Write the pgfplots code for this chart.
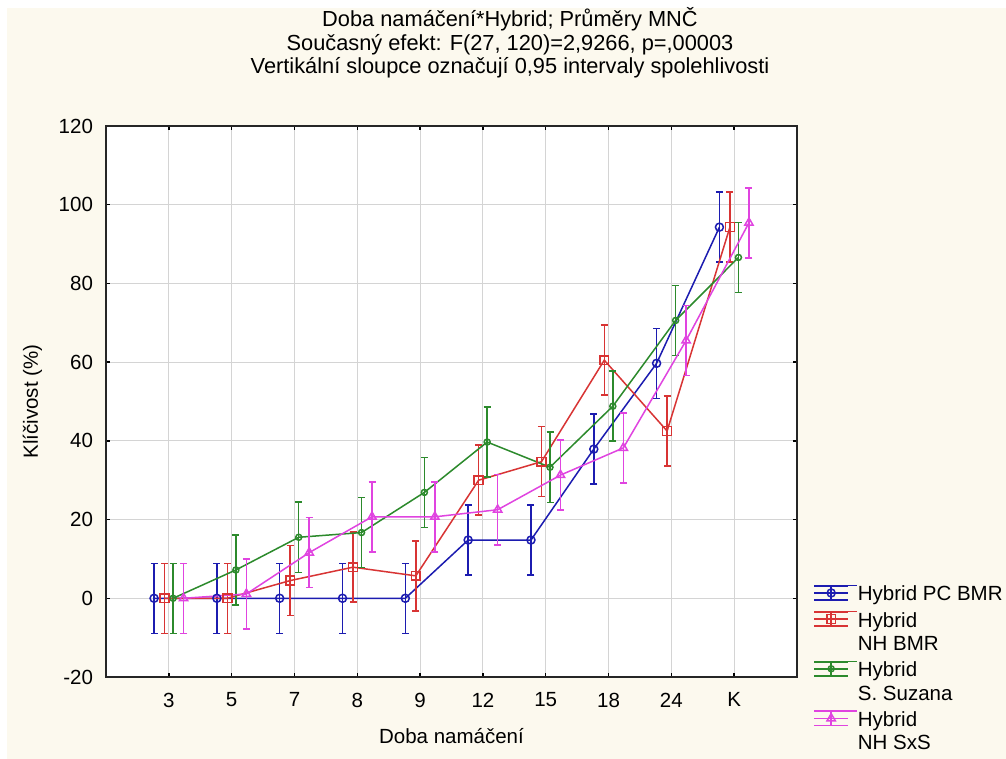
\documentclass[border=0pt]{standalone}
\usepackage{pgfplots}
\pgfplotsset{compat=1.18}
\usepackage{pgfplotstable}
\usepackage{fontspec}
\setmainfont{Liberation Sans}

\definecolor{paper}{HTML}{FCF9EE}
\definecolor{serA}{HTML}{1C1CB0}
\definecolor{serB}{HTML}{D83434}
\definecolor{serC}{HTML}{2C8A2C}
\definecolor{serD}{HTML}{E044E0}
\definecolor{gridgray}{HTML}{D4D4D4}

% i = soaking time (category index), m = LS mean, e = half-width of 0.95 CI
\pgfplotstableread{
i m e
1 0 8.9
2 0 8.9
3 0 8.9
4 0 8.9
5 0 8.9
6 14.8 8.9
7 14.8 8.9
8 37.9 8.9
9 59.7 8.9
10 94.3 8.9
}\pcbmr
\pgfplotstableread{
i m e
1 0 8.9
2 0 8.9
3 4.5 8.9
4 7.9 8.9
5 5.7 8.9
6 30.0 8.9
7 34.7 8.9
8 60.5 8.9
9 42.5 8.9
10 94.3 8.9
}\nhbmr
\pgfplotstableread{
i m e
1 0 8.9
2 7.2 8.9
3 15.5 8.9
4 16.7 8.9
5 26.9 8.9
6 39.7 8.9
7 33.3 8.9
8 48.8 8.9
9 70.6 8.9
10 86.6 8.9
}\suzana
\pgfplotstableread{
i m e
1 0 8.9
2 1.1 8.9
3 11.6 8.9
4 20.7 8.9
5 20.7 8.9
6 22.5 8.9
7 31.3 8.9
8 38.2 8.9
9 65.5 8.9
10 95.4 8.9
}\nhsxs

\newcommand\chartfont{\fontsize{10.25}{11.75}\selectfont}
\newcommand\titlefont{\fontsize{10.9}{12}\selectfont}
% fixed line box for legend text
\newcommand\ls{\rule[-2pt]{0pt}{9.5pt}}

\pgfplotsset{
  series/.style={
    color=#1, line width=0.75pt,
    mark options={solid, line width=0.75pt},
    error bars/y dir=both, error bars/y explicit,
    error bars/error bar style={line width=0.75pt},
    error bars/error mark options={line width=0.75pt, mark size=1.75pt, rotate=90},
  },
}

\begin{document}
\begin{tikzpicture}
\useasboundingbox (-53pt,-41pt) rectangle (450pt,338.5pt);
\fill[white] (-53pt,-41pt) rectangle (450pt,338.5pt);
\fill[paper] (-49.5pt,-41pt) rectangle (450pt,334.5pt);

\node[font=\titlefont, anchor=base] at (202pt,325.2pt) {Doba namáčení*Hybrid; Průměry MNČ};
\node[font=\titlefont, anchor=base] at (202pt,313.2pt) {Současný efekt: F(27, 120)=2,9266, p=,00003};
\node[font=\titlefont, anchor=base] at (202pt,301.5pt) {Vertikální sloupce označují 0,95 intervaly spolehlivosti};

\begin{axis}[
  at={(0pt,0pt)}, anchor=south west,
  scale only axis, width=345.5pt, height=275.5pt,
  xmin=0, xmax=11, ymin=-20, ymax=120,
  xtick={1,...,10}, xticklabels={3,5,7,8,9,12,15,18,24,K},
  ytick={-20,0,20,40,60,80,100,120},
  yticklabels={-20,0,20,40,60,80,100,120},
  tick align=inside, major tick length=2pt,
  tick style={black, line width=0.75pt},
  axis line style={line width=1pt, black!85},
  axis background/.style={fill=white},
  grid=major, major grid style={gridgray, line width=0.5pt},
  ticklabel style={font=\chartfont},
  xticklabel style={yshift=-4.4pt},
  yticklabel style={xshift=-3pt},
  xlabel={Doba namáčení}, ylabel={Klíčivost (\%)},
  label style={font=\chartfont},
  xlabel style={at={(axis description cs:0.5,-0.108)}, anchor=center},
  ylabel style={at={(axis description cs:-0.1064,0.5)}, anchor=center},
  legend style={at={(axis description cs:1.0232,0.1682)}, anchor=north west,
    draw=none, fill=none, font=\chartfont, inner sep=0pt,
    row sep=3.5pt, column sep=0pt,
    nodes={inner sep=0pt}, cells={anchor=north west, align=left}},
  legend image code/.code={%
    \path (0pt,0pt) -- (21.5pt,0pt);
    \draw[mark=none,#1] (0pt,-3.75pt) -- (17pt,-3.75pt);
    \draw[mark=none,#1] (0pt,-0.25pt) -- (17pt,-0.25pt);
    \draw[mark=none,#1] (0pt,-7.25pt) -- (17pt,-7.25pt);
    \draw[mark=none,#1] (8.5pt,-7.25pt) -- (8.5pt,-0.25pt);
    \draw[#1] plot coordinates {(8.5pt,-3.75pt)};
  },
]
\addplot[series=serA, mark=o, mark size=2pt]
  table[x expr=\thisrow{i}-0.235, y=m, y error=e] {\pcbmr};
\addlegendentry{\ls Hybrid PC BMR}
\addplot[series=serB, mark=square, mark size=2.2pt]
  table[x expr=\thisrow{i}-0.068, y=m, y error=e] {\nhbmr};
\addlegendentry{\ls Hybrid\\\ls NH BMR}
\addplot[series=serC, mark=o, mark size=1.5pt]
  table[x expr=\thisrow{i}+0.068, y=m, y error=e] {\suzana};
\addlegendentry{\ls Hybrid\\\ls S. Suzana}
\addplot[series=serD, mark=triangle, mark size=2.4pt]
  table[x expr=\thisrow{i}+0.235, y=m, y error=e] {\nhsxs};
\addlegendentry{\ls Hybrid\\\ls NH SxS}
\end{axis}
\end{tikzpicture}
\end{document}
